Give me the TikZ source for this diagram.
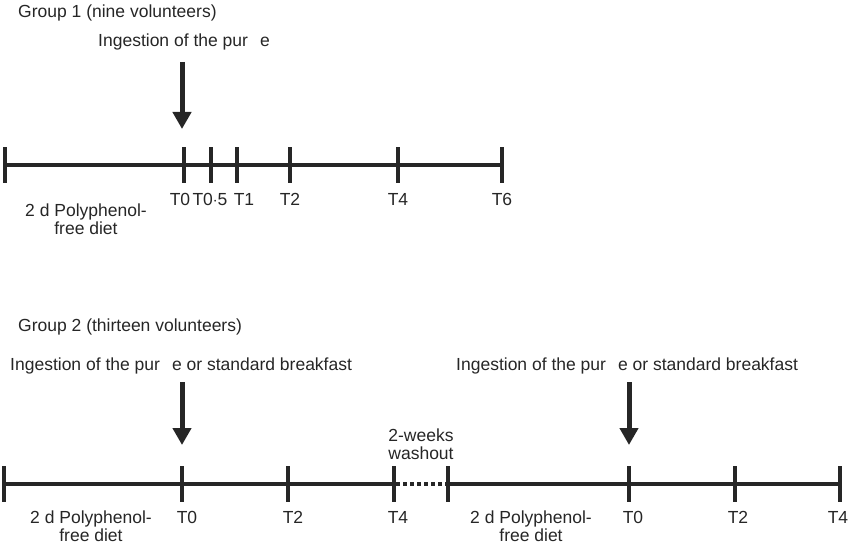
\documentclass[tikz,border=0pt]{standalone}
\usepackage{fontspec}
\setmainfont{Liberation Sans}
\usetikzlibrary{arrows.meta}

\begin{document}
\begin{tikzpicture}[x=1pt, y=-1pt,
    tick/.style ={rectangle, fill=black!85, inner sep=0pt, minimum width=4pt, minimum height=36pt},
    label/.style ={inner sep=0pt, font=\fontsize{17.5}{17.5}\selectfont, text=black!85},
    diet/.style ={label, align=center},
    timeline/.style ={line width=4pt, draw=black!85},
    intake/.style ={line width=5pt, draw=black!85, -{Triangle[width=18pt,length=17pt]}}]
   \useasboundingbox (0,0) rectangle (850,545);

   % group 1
   \node[label, anchor=west] (G1) at (18,13) {Group 1 (nine volunteers)};
   \node[label, anchor=west] (I1) at (98,42) {Ingestion of the pur\hspace{12pt}e};
   \coordinate (I1s) at (182,62);
   \coordinate (I1e) at (182,129);

   \node[tick] (A) at (5,165)  {};
   \node[tick] (B) at (184,165)  {};
   \node[tick] (C) at (211,165)  {};
   \node[tick] (D) at (237,165)  {};
   \node[tick] (E) at (290,165)  {};
   \node[tick] (F) at (398,165)  {};
   \node[tick] (G) at (502,165)  {};

   \node[label] (LB) at (180,199) {T0};
   \node[label] (LC) at (210,199) {T0$\cdot$5};
   \node[label] (LD) at (244,199) {T1};
   \node[label] (LE) at (290,199) {T2};
   \node[label] (LF) at (398,199) {T4};
   \node[label] (LG) at (502,199) {T6};
   \node[diet] (P1) at (86,219) {2 d Polyphenol-\\free diet};

   \draw[timeline] (A) to  (B);
   \draw[timeline] (B) to  (C);
   \draw[timeline] (C) to  (D);
   \draw[timeline] (D) to  (E);
   \draw[timeline] (E) to  (F);
   \draw[timeline] (F) to  (G);
   \draw[intake] (I1s) to (I1e);

   % group 2
   \node[label, anchor=west] (G2) at (18,327) {Group 2 (thirteen volunteers)};
   \node[label, anchor=west] (I2) at (10,366) {Ingestion of the pur\hspace{12pt}e or standard breakfast};
   \node[label, anchor=west] (I3) at (456,366) {Ingestion of the pur\hspace{12pt}e or standard breakfast};
   \coordinate (I2s) at (182,382);
   \coordinate (I2e) at (182,445);
   \coordinate (I3s) at (629,382);
   \coordinate (I3e) at (629,445);

   \node[tick] (H) at (4,484)  {};
   \node[tick] (J) at (182,484)  {};
   \node[tick] (K) at (288,484)  {};
   \node[tick] (L) at (394,484)  {};
   \node[tick] (M) at (448,484)  {};
   \node[tick] (N) at (629,484)  {};
   \node[tick] (O) at (735,484)  {};
   \node[tick] (Q) at (840,484)  {};

   \node[label] (LJ) at (187,517) {T0};
   \node[label] (LK) at (293,517) {T2};
   \node[label] (LL) at (398,517) {T4};
   \node[label] (LN) at (633,517) {T0};
   \node[label] (LO) at (738,517) {T2};
   \node[label] (LQ) at (838,517) {T4};
   \node[diet] (P2) at (91,526) {2 d Polyphenol-\\free diet};
   \node[diet] (P3) at (531,526) {2 d Polyphenol-\\free diet};
   \node[diet] (W) at (421,444) {2-weeks\\washout};

   \draw[timeline] (H) to  (J);
   \draw[timeline] (J) to  (K);
   \draw[timeline] (K) to  (L);
   \draw[timeline, dash pattern=on 4pt off 3pt] (L) to  (M);
   \draw[timeline] (M) to  (N);
   \draw[timeline] (N) to  (O);
   \draw[timeline] (O) to  (Q);
   \draw[intake] (I2s) to (I2e);
   \draw[intake] (I3s) to (I3e);
 \end{tikzpicture}
\end{document}
